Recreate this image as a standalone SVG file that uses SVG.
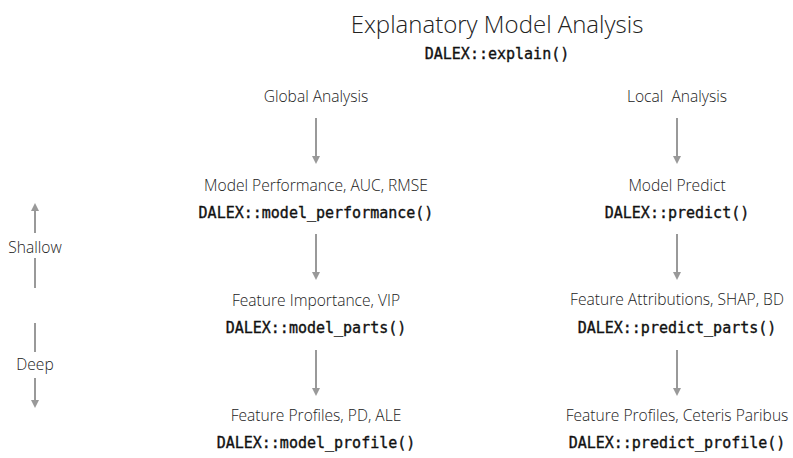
<svg xmlns="http://www.w3.org/2000/svg" width="793" height="458" viewBox="0 0 793 458">
<defs>
<style>
.t{font-family:"Open Sans","Noto Sans",sans-serif;fill:#222;text-anchor:middle;font-size:15.6px;font-weight:300;white-space:pre}
.h{font-size:24px}
.m{font-family:"DejaVu Sans Mono","Liberation Mono",monospace;fill:#111;stroke:#111;stroke-width:0.35;text-anchor:middle;font-size:15px;font-weight:400}
.a{stroke:#999;stroke-width:2;fill:none}
</style>
<marker id="ah" viewBox="0 0 10 10" refX="5" refY="5" markerWidth="4" markerHeight="4" orient="auto-start-reverse" markerUnits="strokeWidth">
<path d="M0,0 L10,5 L0,10 z" fill="#999"/>
</marker>
</defs>
<rect width="793" height="458" fill="#fff"/>
<g id="title">
<text class="t h" x="497" y="33">Explanatory Model Analysis</text>
<text class="m" x="497" y="59">DALEX::explain()</text>
</g>
<g id="global">
<text class="t" x="316" y="102">Global Analysis</text>
</g>
<g id="local">
<text class="t" x="677" y="102">Local  Analysis</text>
</g>
<g id="model_performance">
<text class="t" x="316" y="191">Model Performance, AUC, RMSE</text>
<text class="m" x="316" y="218">DALEX::model_performance()</text>
</g>
<g id="model_parts">
<text class="t" x="316" y="306">Feature Importance, VIP</text>
<text class="m" x="316" y="333">DALEX::model_parts()</text>
</g>
<g id="model_profile">
<text class="t" x="316" y="421">Feature Profiles, PD, ALE</text>
<text class="m" x="316" y="448">DALEX::model_profile()</text>
</g>
<g id="predict">
<text class="t" x="677" y="191">Model Predict</text>
<text class="m" x="677" y="218">DALEX::predict()</text>
</g>
<g id="predict_parts">
<text class="t" x="677" y="305">Feature Attributions, SHAP, BD</text>
<text class="m" x="677" y="333">DALEX::predict_parts()</text>
</g>
<g id="predict_profile">
<text class="t" x="677" y="421">Feature Profiles, Ceteris Paribus</text>
<text class="m" x="677" y="448">DALEX::predict_profile()</text>
</g>
<g id="depth">
<text class="t" x="35" y="253">Shallow</text>
<text class="t" x="35" y="370">Deep</text>
</g>
<g id="connectors">
<line class="a" x1="316" y1="118" x2="316" y2="160" marker-end="url(#ah)"/>
<line class="a" x1="677" y1="118" x2="677" y2="160" marker-end="url(#ah)"/>
<line class="a" x1="316" y1="234" x2="316" y2="276" marker-end="url(#ah)"/>
<line class="a" x1="677" y1="234" x2="677" y2="276" marker-end="url(#ah)"/>
<line class="a" x1="316" y1="350" x2="316" y2="392" marker-end="url(#ah)"/>
<line class="a" x1="677" y1="350" x2="677" y2="392" marker-end="url(#ah)"/>
<line class="a" x1="35" y1="233" x2="35" y2="207" marker-end="url(#ah)"/>
<line class="a" x1="35" y1="258" x2="35" y2="288"/>
<line class="a" x1="35" y1="323" x2="35" y2="352"/>
<line class="a" x1="35" y1="378" x2="35" y2="404" marker-end="url(#ah)"/>
</g>
</svg>
